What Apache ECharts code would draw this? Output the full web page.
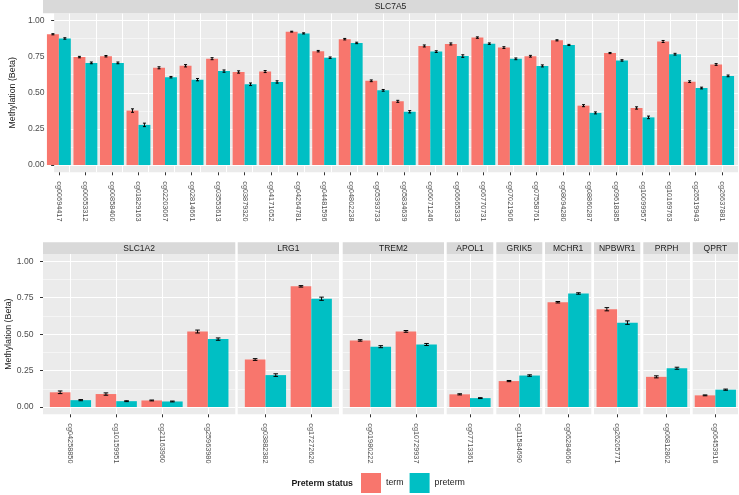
<!DOCTYPE html>
<html><head><meta charset="utf-8">
<script src="https://cdn.jsdelivr.net/npm/echarts@6/dist/echarts.min.js"></script>
<style>html,body{margin:0;padding:0;background:#fff}#c{width:739px;height:495px}</style>
</head><body><div id="c"></div>
<script>
// ---------- data ----------
const topGene = 'SLC7A5';
const topProbes = ['cg00694417','cg00653312','cg00858400','cg01829163','cg02203067','cg02814661','cg03553613','cg03879320','cg04171052','cg04264781','cg04481596','cg04802238','cg05393733','cg05834639','cg06071246','cg06665333','cg06770731','cg07021906','cg07558761','cg08094280','cg08860287','cg09618385','cg10099957','cg10169763','cg26519943','cg26637881'];
const topTerm = [0.905,0.747,0.753,0.377,0.673,0.687,0.736,0.644,0.647,0.923,0.788,0.871,0.583,0.441,0.824,0.838,0.882,0.813,0.753,0.863,0.411,0.775,0.395,0.855,0.577,0.696];
const topPreterm = [0.876,0.707,0.707,0.278,0.608,0.591,0.650,0.559,0.575,0.911,0.743,0.845,0.517,0.369,0.785,0.754,0.840,0.735,0.686,0.831,0.361,0.724,0.330,0.767,0.533,0.617];
const topTermErr = [0.004,0.005,0.005,0.012,0.007,0.008,0.007,0.008,0.007,0.003,0.005,0.005,0.006,0.007,0.007,0.007,0.005,0.006,0.006,0.004,0.007,0.004,0.008,0.007,0.006,0.006];
const topPretermErr = [0.005,0.006,0.006,0.012,0.005,0.008,0.008,0.009,0.008,0.004,0.005,0.005,0.006,0.008,0.006,0.009,0.005,0.006,0.007,0.004,0.007,0.005,0.009,0.006,0.006,0.006];

const bottomGenes = ['SLC1A2','LRG1','TREM2','APOL1','GRIK5','MCHR1','NPBWR1','PRPH','QPRT'];
const bottomProbeGene = ['SLC1A2','SLC1A2','SLC1A2','SLC1A2','LRG1','LRG1','TREM2','TREM2','APOL1','GRIK5','MCHR1','NPBWR1','PRPH','QPRT'];
const bottomProbes = ['cg04258850','cg10159951','cg21163960','cg25963980','cg03882382','cg17272620','cg01980222','cg10729937','cg07713361','cg11584690','cg06284060','cg26205771','cg06812802','cg06453916'];
const bottomTerm = [0.101,0.089,0.045,0.518,0.326,0.828,0.457,0.519,0.087,0.178,0.719,0.671,0.207,0.080];
const bottomPreterm = [0.047,0.040,0.038,0.466,0.219,0.743,0.414,0.429,0.061,0.216,0.779,0.579,0.266,0.119];
const bottomTermErr = [0.009,0.008,0.003,0.010,0.006,0.005,0.005,0.006,0.004,0.004,0.005,0.011,0.007,0.003];
const bottomPretermErr = [0.004,0.003,0.003,0.008,0.009,0.011,0.007,0.007,0.003,0.005,0.005,0.012,0.007,0.004];

const seriesNames = ['term','preterm'];
const yTicks = [0, 0.25, 0.5, 0.75, 1];
const yTickLabels = ['0.00','0.25','0.50','0.75','1.00'];
const yMinorTicks = [0.125, 0.375, 0.625, 0.875];
const yTitle = 'Methylation (Beta)';
const legendTitle = 'Preterm status';

// ---------- layout / style ----------
const FONT = '"Liberation Sans", Arial, sans-serif';
const colors = ['#F8766D', '#00BFC4'];
const yMin = -0.05, yMax = 1.05;
const topLayout = {x0: 43, x1: 738, top: 13.3, bottom: 172.3, stripTop: 0, unit: 26.53};
const bottomLayout = {top: 254, bottom: 414.3, stripTop: 242.3, unit: 45.8};
const bottomPanelX = [[43,235.3],[237.7,339],[342.7,444],[446.7,493.3],[496.3,542.3],[545,591.3],[594,640.3],[643.3,690],[692.7,738]];

const grids = [], xAxes = [], yAxes = [], series = [], graphics = [];

function addPanel(gene, probes, term, pre, termErr, preErr, x0, x1, L, showY) {
  const h = L.bottom - L.top;
  const n = probes.length;
  const cx = (x0 + x1) / 2;
  const c0 = cx - n * L.unit / 2 + L.unit / 2;   // pixel centre of first category
  const catIdx = probes.map((p, i) => i);
  // background grid (panel fill + grid lines)
  const bg = grids.length;
  grids.push({left: x0, top: L.top, width: x1 - x0, height: h, show: true, backgroundColor: '#ebebeb', borderWidth: 0});
  xAxes.push({
    gridIndex: bg, type: 'value', position: 'bottom', min: (x0 - c0) / L.unit, max: (x1 - c0) / L.unit,
    axisLine: {show: false, onZero: false},
    axisTick: {show: false, customValues: catIdx},
    axisLabel: {show: false, customValues: catIdx},
    splitLine: {show: true, customValues: catIdx, lineStyle: {color: '#ffffff', width: 1}}
  });
  const yMain = {
    gridIndex: bg, type: 'value', min: yMin, max: yMax, position: 'left',
    axisLine: {show: false, onZero: false},
    axisTick: {show: showY, length: 3, customValues: yTicks, lineStyle: {color: '#333', width: 1}},
    axisLabel: {show: showY, customValues: yTicks, margin: 9.5, color: '#4d4d4d', fontSize: 8.6, fontFamily: FONT,
      formatter: v => yTickLabels[yTicks.indexOf(v)] || ''},
    splitLine: {show: true, customValues: yTicks, lineStyle: {color: '#ffffff', width: 1}}
  };
  if (showY) {
    yMain.name = yTitle; yMain.nameLocation = 'middle'; yMain.nameGap = 30;
    yMain.nameTextStyle = {fontSize: 8.8, color: '#1a1a1a', fontFamily: FONT};
  }
  yAxes.push(yMain);
  yAxes.push({
    gridIndex: bg, type: 'value', min: yMin, max: yMax, position: 'right',
    axisLine: {show: false, onZero: false},
    axisTick: {show: false, customValues: yMinorTicks},
    axisLabel: {show: false, customValues: yMinorTicks},
    splitLine: {show: true, customValues: yMinorTicks, lineStyle: {color: '#ffffff', width: 0.5}}
  });
  // data grid
  const dg = grids.length;
  grids.push({left: cx - n * L.unit / 2, top: L.top, width: n * L.unit, height: h, show: false});
  const xi = xAxes.length;
  xAxes.push({
    gridIndex: dg, type: 'category', data: probes, position: 'bottom',
    axisLine: {show: false, onZero: false},
    axisTick: {show: true, alignWithLabel: true, length: 3, lineStyle: {color: '#333', width: 1}},
    axisLabel: {rotate: -90, interval: 0, fontSize: 7.3, color: '#4d4d4d', margin: 9, fontFamily: FONT},
    splitLine: {show: false}
  });
  const yi = yAxes.length;
  yAxes.push({gridIndex: dg, type: 'value', min: yMin, max: yMax, show: false,
    axisLine: {show: false, onZero: false}, splitLine: {show: false}});
  const vals = [term, pre];
  for (let s = 0; s < 2; s++) {
    series.push({
      type: 'bar', name: seriesNames[s], xAxisIndex: xi, yAxisIndex: yi,
      data: vals[s], barGap: '0%', barCategoryGap: '10%',
      itemStyle: {color: colors[s]}, silent: true, z: 2
    });
  }
  const errData = [];
  for (let i = 0; i < n; i++) {
    errData.push([i, term[i], termErr[i], 0]);
    errData.push([i, pre[i], preErr[i], 1]);
  }
  series.push({
    type: 'custom', name: 'err', xAxisIndex: xi, yAxisIndex: yi, z: 3, silent: true,
    encode: {x: 0, y: 1}, data: errData,
    renderItem: (params, api) => {
      const i = api.value(0), m = api.value(1), e = api.value(2), g = api.value(3);
      const band = api.size([1, 0])[0];
      const c = api.coord([i, m]);
      const x = c[0] + (g === 0 ? -1 : 1) * band * 0.225;
      const yT = api.coord([i, m + e])[1], yB = api.coord([i, m - e])[1];
      const hw = Math.max(1.5, band * 0.05);
      const st = {stroke: '#000', lineWidth: 1};
      return {type: 'group', children: [
        {type: 'line', shape: {x1: x, y1: yT, x2: x, y2: yB}, style: st},
        {type: 'line', shape: {x1: x - hw, y1: yT, x2: x + hw, y2: yT}, style: st},
        {type: 'line', shape: {x1: x - hw, y1: yB, x2: x + hw, y2: yB}, style: st}
      ]};
    }
  });
  // strip
  graphics.push({type: 'rect', shape: {x: x0, y: L.stripTop, width: x1 - x0, height: L.top - L.stripTop}, style: {fill: '#d9d9d9'}, z: 1});
  graphics.push({type: 'text', x: cx, y: (L.stripTop + L.top) / 2 + 0.5, z: 2,
    style: {text: gene, fill: '#1a1a1a', font: '8.5px ' + FONT, align: 'center', verticalAlign: 'middle', textAlign: 'center', textVerticalAlign: 'middle'}});
}

addPanel(topGene, topProbes, topTerm, topPreterm, topTermErr, topPretermErr, topLayout.x0, topLayout.x1, topLayout, true);

bottomGenes.forEach((gene, gi) => {
  const idx = [];
  bottomProbeGene.forEach((g, i) => { if (g === gene) idx.push(i); });
  addPanel(gene,
    idx.map(i => bottomProbes[i]), idx.map(i => bottomTerm[i]), idx.map(i => bottomPreterm[i]),
    idx.map(i => bottomTermErr[i]), idx.map(i => bottomPretermErr[i]),
    bottomPanelX[gi][0], bottomPanelX[gi][1], bottomLayout, gi === 0);
});

graphics.push({type: 'text', x: 353, y: 483.5, z: 2,
  style: {text: legendTitle, fill: '#1a1a1a', font: 'bold 8.8px ' + FONT, align: 'right', verticalAlign: 'middle', textAlign: 'right', textVerticalAlign: 'middle'}});

const chart = echarts.init(document.getElementById('c'), null, {renderer: 'canvas'});
chart.setOption({
  animation: false,
  backgroundColor: '#ffffff',
  grid: grids, xAxis: xAxes, yAxis: yAxes, series: series,
  graphic: graphics,
  legend: {
    data: seriesNames, left: 361, top: 473, padding: 0, itemWidth: 20, itemHeight: 20, itemGap: 6,
    icon: 'rect', selectedMode: false,
    textStyle: {fontSize: 8.8, color: '#1a1a1a', fontFamily: FONT}
  }
});
</script>
</body></html>
